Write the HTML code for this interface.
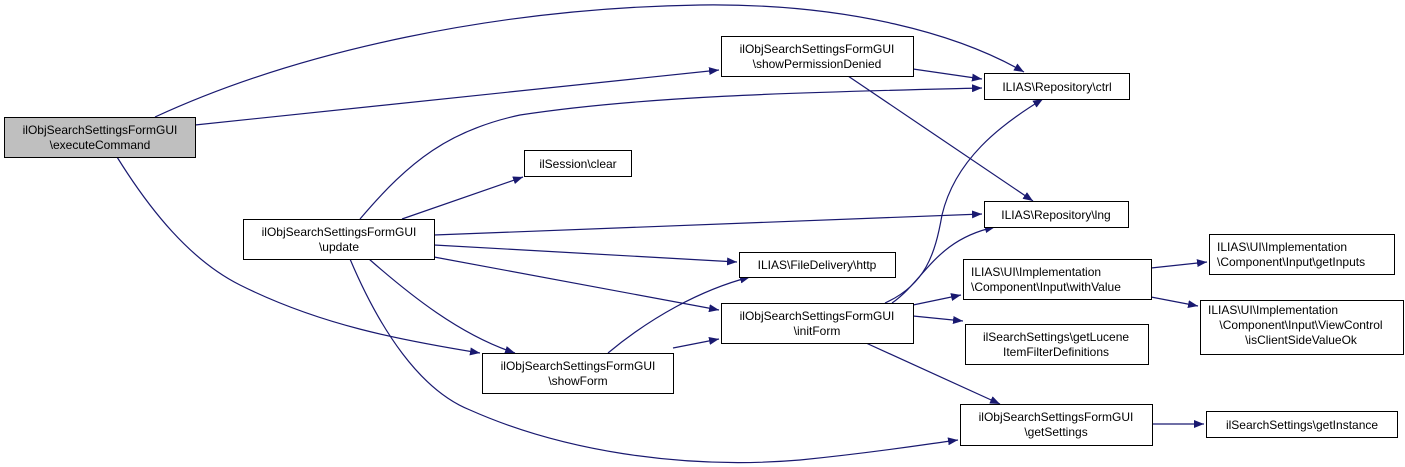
<!DOCTYPE html>
<html><head><meta charset="utf-8"><style>
html,body{margin:0;padding:0;background:#fff;}
svg{display:block;}
text{font-family:"Liberation Sans",Arial,sans-serif;font-size:12px;fill:#000;}
</style></head><body>
<svg width="1405" height="467" viewBox="0 0 1405 467" xmlns="http://www.w3.org/2000/svg">
<defs>
<marker id="a" markerWidth="11" markerHeight="8" refX="10" refY="4" orient="auto" markerUnits="userSpaceOnUse">
<path d="M0,0 L10,4 L0,8 Z" fill="#191970"/>
</marker>
</defs>
<g fill="none" stroke="#191970" stroke-width="1.2" marker-end="url(#a)">
<path d="M155,117 C300,50 500,8 700,5 C850,3 960,35 1024,72"/>
<path d="M195,125 L719,70"/>
<path d="M360,219 C410,160 450,130 520,115 C650,95 820,92 982,88"/>
<path d="M402,219 L523,177"/>
<path d="M434,235 L982,214"/>
<path d="M434,245 L737,262"/>
<path d="M434,257 L719,310"/>
<path d="M369,259 C410,295 460,335 515,353"/>
<path d="M350,259 C380,330 420,390 470,410 C560,450 680,470 800,460 C880,452 920,445 958,440"/>
<path d="M117,157 C150,210 190,260 240,285 C320,325 400,340 480,353"/>
<path d="M608,353 C650,318 700,290 750,277"/>
<path d="M673,348 L719,339"/>
<path d="M913,69 L982,79"/>
<path d="M848,76 L1033,201"/>
<path d="M885,303 C925,285 935,255 942,215 C955,160 1000,125 1043,99"/>
<path d="M892,303 C925,280 935,240 995,227"/>
<path d="M913,305 L961,295"/>
<path d="M913,316 L963,321"/>
<path d="M866,343 L1000,404"/>
<path d="M1151,268 L1207,262"/>
<path d="M1151,297 L1198,306"/>
<path d="M1152,424 L1204,424"/>
</g>
<g stroke="#000" stroke-width="1" fill="#fff">
<rect x="4.5" y="117.5" width="191" height="40" fill="#bfbfbf"/>
<rect x="243.5" y="219.5" width="191" height="40"/>
<rect x="524.5" y="150.5" width="107" height="26"/>
<rect x="482.5" y="353.5" width="191" height="40"/>
<rect x="721.5" y="36.5" width="192" height="40"/>
<rect x="984.5" y="73.5" width="145" height="26"/>
<rect x="984.5" y="201.5" width="144" height="26"/>
<rect x="739.5" y="252.5" width="156" height="25"/>
<rect x="721.5" y="303.5" width="192" height="40"/>
<rect x="963.5" y="259.5" width="188" height="40"/>
<rect x="965.5" y="324.5" width="183" height="40"/>
<rect x="1209.5" y="234.5" width="185" height="40"/>
<rect x="1200.5" y="300.5" width="203" height="54"/>
<rect x="960.5" y="404.5" width="192" height="41"/>
<rect x="1206.5" y="411.5" width="191" height="26"/>
</g>
<g text-anchor="middle">
<text x="100" y="134">ilObjSearchSettingsFormGUI</text><text x="100" y="149">\executeCommand</text>
<text x="339" y="236">ilObjSearchSettingsFormGUI</text><text x="339" y="251">\update</text>
<text x="578" y="168">ilSession\clear</text>
<text x="578" y="370">ilObjSearchSettingsFormGUI</text><text x="578" y="385">\showForm</text>
<text x="817" y="53">ilObjSearchSettingsFormGUI</text><text x="817" y="68">\showPermissionDenied</text>
<text x="1057" y="91">ILIAS\Repository\ctrl</text>
<text x="1056" y="219">ILIAS\Repository\lng</text>
<text x="817" y="269">ILIAS\FileDelivery\http</text>
<text x="817" y="320">ilObjSearchSettingsFormGUI</text><text x="817" y="335">\initForm</text>
<text x="1056" y="341">ilSearchSettings\getLucene</text><text x="1056" y="356">ItemFilterDefinitions</text>
<text x="1056" y="421">ilObjSearchSettingsFormGUI</text><text x="1056" y="436">\getSettings</text>
<text x="1302" y="429">ilSearchSettings\getInstance</text>
<text x="1301" y="366" style="display:none"></text>
<text x="1301" y="329">\Component\Input\ViewControl</text><text x="1301" y="344">\isClientSideValueOk</text>
</g>
<g text-anchor="start">
<text x="971" y="276">ILIAS\UI\Implementation</text><text x="971" y="291">\Component\Input\withValue</text>
<text x="1217" y="251">ILIAS\UI\Implementation</text><text x="1217" y="266">\Component\Input\getInputs</text>
<text x="1208" y="314">ILIAS\UI\Implementation</text>
</g>
</svg>
</body></html>
